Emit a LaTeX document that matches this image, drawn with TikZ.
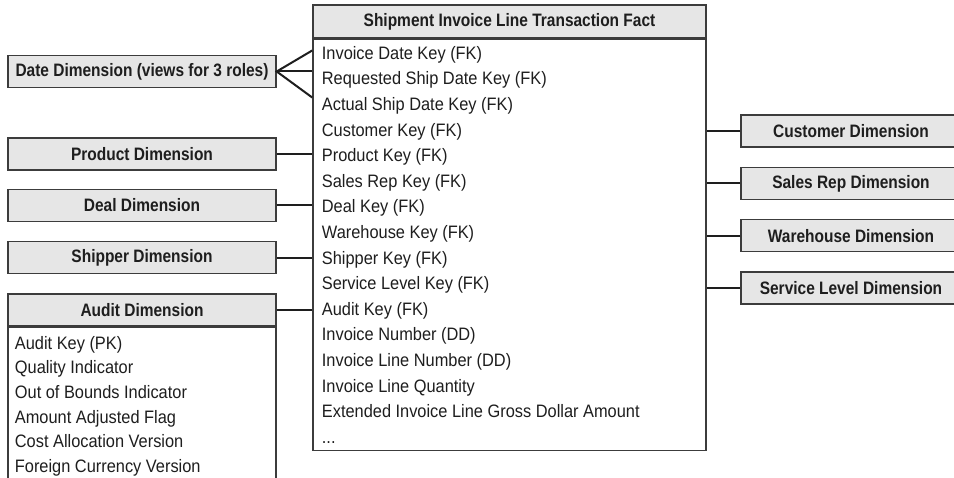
\documentclass[tikz,border=0pt]{standalone}
\usepackage{fontspec}
\newfontfamily\rowfont{Liberation Sans}[FakeStretch=0.91]
\newfontfamily\headfont{Liberation Sans}[FakeStretch=0.86]
\usetikzlibrary{positioning, calc}
\definecolor{boxfill}{HTML}{E6E6E6}
\definecolor{boxedge}{HTML}{3C3C3C}
\definecolor{inkgray}{HTML}{1E1E1E}

\begin{document}
\begin{tikzpicture}[
		x=1pt, y=-1pt,
		node distance=19pt,
		dimbox/.style={rectangle, draw=boxedge, line width=1.4pt, fill=boxfill, minimum width=268, minimum height=32, inner sep=0pt, text=inkgray, font=\headfont\bfseries\fontsize{18}{20}\selectfont},
		tablebox/.style={rectangle, draw=boxedge, line width=1.6pt, fill=white, inner sep=0pt},
		rows/.style={align=left, inner sep=0pt, text=inkgray, anchor=base west},
		link/.style={draw=inkgray, line width=2pt}
	]

	\path[use as bounding box, clip] (0,0) rectangle (954,478);

	% Fact table
	\node [dimbox, minimum width=393, minimum height=33] (facthdr) at (509.5,21.5) {Shipment Invoice Line Transaction Fact};
	\node [tablebox, minimum width=393, minimum height=411, below=0pt of facthdr] (factbody) {};
	% base of the last row
	\node [rows, font=\rowfont\fontsize{18}{25.6}\selectfont] (factrows) at ($(factbody.north west)+(9.5,404.5)$) {Invoice Date Key (FK)\\Requested Ship Date Key (FK)\\Actual Ship Date Key (FK)\\Customer Key (FK)\\Product Key (FK)\\Sales Rep Key (FK)\\Deal Key (FK)\\Warehouse Key (FK)\\Shipper Key (FK)\\Service Level Key (FK)\\Audit Key (FK)\\Invoice Number (DD)\\Invoice Line Number (DD)\\Invoice Line Quantity\\Extended Invoice Line Gross Dollar Amount\\...};

	% Left dimensions
	\node [dimbox] (datedim) at (142,71.5) {Date Dimension (views for 3 roles)};
	\node [dimbox] (proddim) at (142,154) {Product Dimension};
	\node [dimbox, below=18pt of proddim] (dealdim) {Deal Dimension};
	\node [dimbox, below=of dealdim] (shipdim) {Shipper Dimension};
	\node [dimbox, below=of shipdim] (audithdr) {Audit Dimension};
	\node [tablebox, minimum width=268, minimum height=180, below=0pt of audithdr] (auditbody) {};
	\node [rows, font=\rowfont\fontsize{18}{24.6}\selectfont] (auditrows) at ($(auditbody.north west)+(7.5,145.5)$) {Audit Key (PK)\\Quality Indicator\\Out of Bounds Indicator\\Amount Adjusted Flag\\Cost Allocation Version\\Foreign Currency Version};

	% Right dimensions
	\node [dimbox, minimum width=220] (custdim) at (851,131) {Customer Dimension};
	\node [dimbox, minimum width=220, below=of custdim] (repdim) {Sales Rep Dimension};
	\node [dimbox, minimum width=220, below=of repdim] (whdim) {Warehouse Dimension};
	\node [dimbox, minimum width=220, below=of whdim] (svcdim) {Service Level Dimension};

	% Date role-playing links
	\path [link] ($(datedim.east -| factbody.west)+(0,-21)$) -- (datedim.east) -- ($(datedim.east -| factbody.west)+(0,26)$);
	\path [link] (datedim.east) -- (datedim.east -| factbody.west);

	% Other links
	\path [link] (proddim) -- (proddim -| factbody.west);
	\path [link] (dealdim) -- (dealdim -| factbody.west);
	\path [link] (shipdim) -- (shipdim -| factbody.west);
	\path [link] (audithdr) -- (audithdr -| factbody.west);
	\path [link] (custdim) -- (custdim -| factbody.east);
	\path [link] (repdim) -- (repdim -| factbody.east);
	\path [link] (whdim) -- (whdim -| factbody.east);
	\path [link] (svcdim) -- (svcdim -| factbody.east);

\end{tikzpicture}
\end{document}
